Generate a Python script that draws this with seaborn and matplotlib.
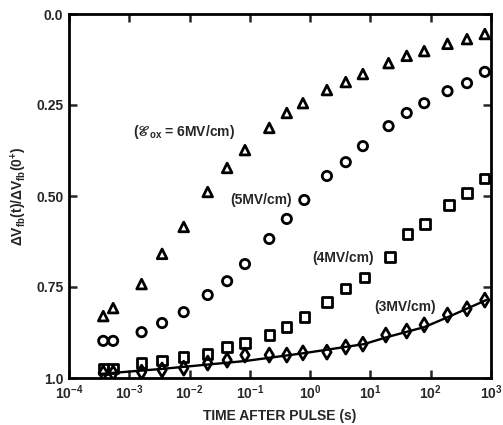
import numpy as np
import pandas as pd
import matplotlib
matplotlib.use("Agg")
import matplotlib.pyplot as plt
import seaborn as sns
from matplotlib.ticker import FixedLocator, NullLocator, FixedFormatter

# ---- data ----
t_tri = [3.7e-4, 5.4e-4, 1.6e-3, 3.5e-3, 8.0e-3, 2.0e-2, 4.2e-2, 8.3e-2, 0.21, 0.41,
         0.76, 1.9, 3.9, 7.5, 20, 40, 78, 190, 400, 790]
v_tri = [0.830, 0.808, 0.742, 0.659, 0.585, 0.489, 0.423, 0.374, 0.313, 0.272,
         0.245, 0.209, 0.187, 0.165, 0.135, 0.115, 0.102, 0.082, 0.069, 0.055]

t_circ = [3.7e-4, 5.4e-4, 1.6e-3, 3.5e-3, 8.0e-3, 2.0e-2, 4.2e-2, 8.3e-2, 0.21, 0.41,
          0.80, 1.9, 3.9, 7.5, 20, 40, 78, 190, 400, 790]
v_circ = [0.898, 0.898, 0.874, 0.849, 0.819, 0.772, 0.734, 0.687, 0.618, 0.563,
          0.511, 0.445, 0.407, 0.363, 0.308, 0.272, 0.245, 0.212, 0.190, 0.159]

t_sq = [3.7e-4, 5.4e-4, 1.6e-3, 3.5e-3, 8.0e-3, 2.0e-2, 4.2e-2, 8.3e-2, 0.21, 0.41,
        0.80, 1.9, 3.9, 8.0, 21, 41, 80, 200, 400, 790]
v_sq = [0.975, 0.973, 0.959, 0.951, 0.942, 0.934, 0.915, 0.904, 0.882, 0.860,
        0.832, 0.791, 0.755, 0.723, 0.668, 0.604, 0.577, 0.525, 0.492, 0.451]

t_dia = [3.7e-4, 5.4e-4, 1.6e-3, 3.5e-3, 8.0e-3, 2.0e-2, 4.2e-2, 8.3e-2, 0.21, 0.41,
         0.76, 1.9, 3.9, 7.5, 18, 40, 78, 190, 400, 790]
v_dia = [0.986, 0.986, 0.984, 0.978, 0.973, 0.959, 0.951, 0.937, 0.937, 0.937,
         0.931, 0.929, 0.915, 0.907, 0.882, 0.871, 0.854, 0.827, 0.810, 0.786]

t_fit = [3.2e-4, 3.5e-3, 8.7e-2, 0.85, 7.8, 19.5, 79, 210, 830]
v_fit = [0.989, 0.975, 0.953, 0.931, 0.907, 0.887, 0.860, 0.830, 0.786]

labels = ["($\\mathscr{E}_{ox}$ = 6MV/cm)", "(5MV/cm)", "(4MV/cm)", "(3MV/cm)"]
label_t = [8.0e-3, 0.153, 3.5, 37.0]
label_v = [0.324, 0.511, 0.670, 0.805]

xticks = [1e-4, 1e-3, 1e-2, 1e-1, 1e0, 1e1, 1e2, 1e3]
xticklabels = ["$10^{-4}$", "$10^{-3}$", "$10^{-2}$", "$10^{-1}$",
               "$10^{0}$", "$10^{1}$", "$10^{2}$", "$10^{3}$"]
yticks = [0.0, 0.25, 0.50, 0.75, 1.0]
yticklabels = ["0.0", "0.25", "0.50", "0.75", "1.0"]

# ---- style ----
sns.set_style("ticks")
plt.rcParams["font.family"] = ["Liberation Sans", "DejaVu Sans"]
plt.rcParams["font.weight"] = "bold"
plt.rcParams["mathtext.fontset"] = "custom"
plt.rcParams["mathtext.rm"] = "Liberation Sans:bold"
plt.rcParams["mathtext.it"] = "Liberation Sans:bold"
plt.rcParams["mathtext.bf"] = "Liberation Sans:bold"
plt.rcParams["mathtext.cal"] = "DejaVu Serif:italic"

fig = plt.figure(figsize=(5.03, 4.25), dpi=100)
ax = fig.add_axes([69 / 503, 1 - 378 / 425, (491 - 69) / 503, (378 - 14) / 425])

df_tri = pd.DataFrame({"t": t_tri, "v": v_tri})
df_circ = pd.DataFrame({"t": t_circ, "v": v_circ})
df_sq = pd.DataFrame({"t": t_sq, "v": v_sq})
df_dia = pd.DataFrame({"t": t_dia, "v": v_dia})
df_fit = pd.DataFrame({"t": t_fit, "v": v_fit})

sns.lineplot(data=df_fit, x="t", y="v", ax=ax, color="black", lw=1.7, sort=True)
common = dict(ax=ax, facecolors="none", edgecolor="black", linewidth=2.0, zorder=3)
sns.scatterplot(data=df_tri, x="t", y="v", marker="^", s=48, **common)
sns.scatterplot(data=df_circ, x="t", y="v", marker="o", s=45, **common)
sns.scatterplot(data=df_sq, x="t", y="v", marker="s", s=45, **common)
sns.scatterplot(data=df_dia, x="t", y="v", marker="d", s=50, **common)

ax.set_xscale("log")
ax.set_xlim(1e-4, 1e3)
ax.set_ylim(1.0, 0.0)

ax.xaxis.set_major_locator(FixedLocator(xticks))
ax.xaxis.set_major_formatter(FixedFormatter(xticklabels))
ax.xaxis.set_minor_locator(NullLocator())
ax.set_yticks(yticks)
ax.set_yticklabels(yticklabels)

ax.tick_params(axis="both", which="major", direction="in", length=6, width=1.8,
               labelsize=10, top=True, right=True, pad=4)
for lab in ax.get_xticklabels() + ax.get_yticklabels():
    lab.set_fontweight("bold")
for sp in ax.spines.values():
    sp.set_linewidth(2.0)
    sp.set_color("black")

ax.set_xlabel("TIME AFTER PULSE (s)", fontsize=10, fontweight="bold", labelpad=5)
ax.set_ylabel("$\\Delta V_{fb}(t)/\\Delta V_{fb}(0^{+})$", fontsize=10,
              fontweight="bold", labelpad=5)

for txt, tx, ty in zip(labels, label_t, label_v):
    ax.text(tx, ty, txt, ha="center", va="center", fontsize=10, fontweight="bold")

fig.savefig("out.png", dpi=100)
